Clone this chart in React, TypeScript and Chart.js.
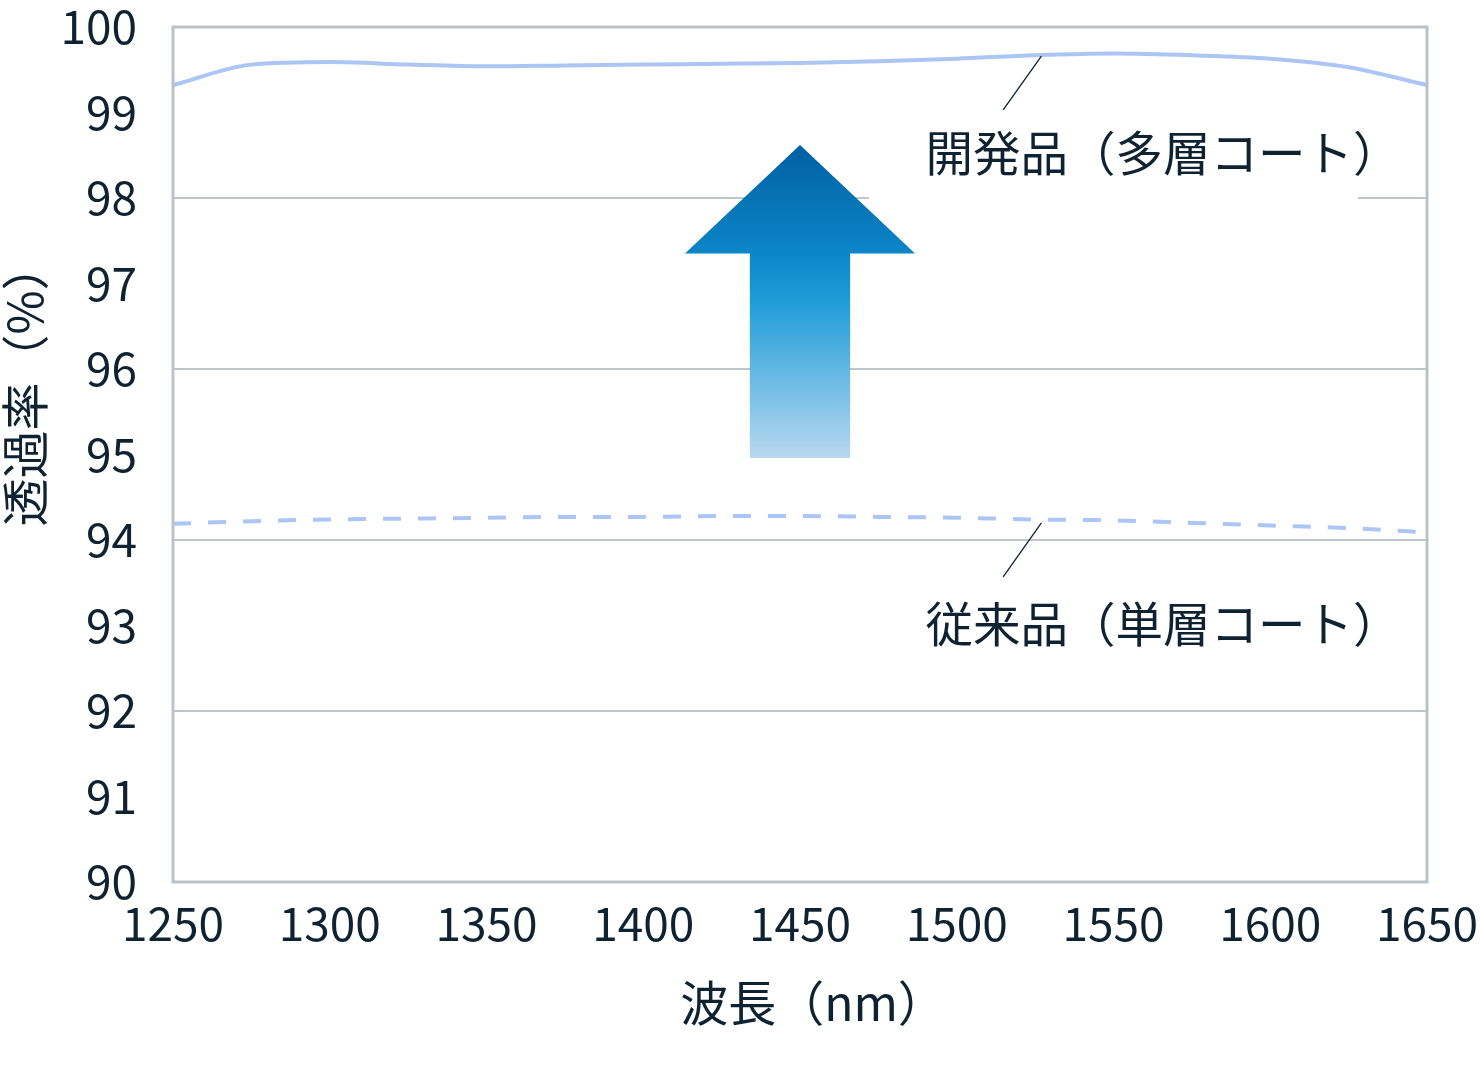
import { Chart, registerables, Plugin } from "chart.js";
import React, { useEffect, useRef } from "react";

Chart.register(...registerables);

// wavelength (nm) and transmittance (%)
const wavelengths = [
  1250, 1275, 1300, 1325, 1350, 1375, 1400, 1425, 1450, 1475, 1500, 1525, 1550,
  1575, 1600, 1625, 1650,
];
const multiLayer = [
  99.32, 99.56, 99.59, 99.56, 99.54, 99.55, 99.56, 99.57, 99.58, 99.6, 99.63,
  99.67, 99.69, 99.67, 99.63, 99.53, 99.32,
];
const singleLayer = [
  94.19, 94.22, 94.24, 94.25, 94.26, 94.27, 94.27, 94.28, 94.28, 94.27, 94.26,
  94.24, 94.23, 94.2, 94.17, 94.14, 94.09,
];
const xTicks = [1250, 1300, 1350, 1400, 1450, 1500, 1550, 1600, 1650];
const seriesLabels = ["開発品（多層コート）", "従来品（単層コート）"];

const FONT = "'Noto Sans CJK JP', 'Noto Sans', sans-serif";
const TEXT = "#0f2231";
const LINE = "#abc5f5";
const GRID = "#bcc6cb";

const annotations: Plugin<"line"> = {
  id: "annotations",
  afterDatasetsDraw(chart) {
    const { ctx, chartArea } = chart;
    const x = chart.scales.x;
    const y = chart.scales.y;
    const px = (v: number) => x.getPixelForValue(v);
    const py = (v: number) => y.getPixelForValue(v);

    ctx.save();
    // white box behind the upper label (hides the 98 grid line)
    ctx.fillStyle = "#ffffff";
    ctx.fillRect(px(1472), py(98.95), px(1628) - px(1472), py(97.9) - py(98.95));

    // plot border
    ctx.strokeStyle = "#b8c2c8";
    ctx.lineWidth = 3;
    ctx.strokeRect(
      chartArea.left,
      chartArea.top,
      chartArea.right - chartArea.left,
      chartArea.bottom - chartArea.top
    );

    // leader lines
    ctx.strokeStyle = TEXT;
    ctx.lineWidth = 1.3;
    ctx.beginPath();
    ctx.moveTo(px(1514.8), py(99.03));
    ctx.lineTo(px(1527), py(99.66));
    ctx.moveTo(px(1514.8), py(93.57));
    ctx.lineTo(px(1527), py(94.2));
    ctx.stroke();

    // series labels
    ctx.fillStyle = TEXT;
    ctx.font = `47.5px ${FONT}`;
    ctx.textAlign = "left";
    ctx.textBaseline = "middle";
    ctx.fillText(seriesLabels[0], px(1490), py(98.53));
    ctx.fillText(seriesLabels[1], px(1490), py(93.02));

    // up arrow
    const cx = px(1450);
    const headW = px(1450 + 36.7) - cx;
    const bodyW = px(1450 + 16) - cx;
    const tip = py(98.62);
    const base = py(97.35);
    const bottom = py(94.96);
    const grad = ctx.createLinearGradient(0, tip, 0, bottom);
    grad.addColorStop(0, "#0060a3");
    grad.addColorStop(0.35, "#0d86c7");
    grad.addColorStop(0.5, "#1f9dd9");
    grad.addColorStop(1, "#b8d8f0");
    ctx.fillStyle = grad;
    ctx.beginPath();
    ctx.moveTo(cx, tip);
    ctx.lineTo(cx + headW, base);
    ctx.lineTo(cx + bodyW, base);
    ctx.lineTo(cx + bodyW, bottom);
    ctx.lineTo(cx - bodyW, bottom);
    ctx.lineTo(cx - bodyW, base);
    ctx.lineTo(cx - headW, base);
    ctx.closePath();
    ctx.fill();

    // axis titles
    ctx.fillStyle = TEXT;
    ctx.font = `48px ${FONT}`;
    ctx.textAlign = "center";
    ctx.textBaseline = "middle";
    ctx.fillText("波長（nm）", (chartArea.left + chartArea.right) / 2 + 13, 1003);

    const midY = (chartArea.top + chartArea.bottom) / 2 - 70;
    ctx.translate(25, midY);
    ctx.rotate(-Math.PI / 2);
    ctx.fillText("透過率（%）", 0, 0);
    ctx.restore();
  },
};

const TransmittanceChart: React.FC = () => {
  const canvasRef = useRef<HTMLCanvasElement | null>(null);
  const chartInstance = useRef<Chart | null>(null);

  useEffect(() => {
    if (chartInstance.current) {
      chartInstance.current.destroy();
    }
    if (!canvasRef.current) return;

    chartInstance.current = new Chart(canvasRef.current, {
      type: "line",
      data: {
        datasets: [
          {
            label: seriesLabels[0],
            data: wavelengths.map((w, i) => ({ x: w, y: multiLayer[i] })),
            borderColor: LINE,
            borderWidth: 4,
            pointRadius: 0,
            cubicInterpolationMode: "monotone",
          },
          {
            label: seriesLabels[1],
            data: wavelengths.map((w, i) => ({ x: w, y: singleLayer[i] })),
            borderColor: LINE,
            borderWidth: 4,
            borderDash: [18, 17],
            pointRadius: 0,
            cubicInterpolationMode: "monotone",
          },
        ],
      },
      options: {
        animation: false,
        responsive: true,
        maintainAspectRatio: false,
        layout: { padding: { top: 27, right: 53, left: 0, bottom: 0 } },
        plugins: {
          legend: { display: false },
          tooltip: { enabled: false },
        },
        scales: {
          x: {
            type: "linear",
            min: 1250,
            max: 1650,
            afterBuildTicks: (scale) => {
              scale.ticks = xTicks.map((v) => ({ value: v }));
            },
            afterFit: (scale) => {
              scale.height = 189;
              scale.paddingLeft = 0;
              scale.paddingRight = 0;
            },
            grid: { display: false, drawTicks: false },
            border: { display: false },
            ticks: {
              padding: 14,
              color: TEXT,
              font: { family: FONT, size: 46 },
              maxRotation: 0,
              autoSkip: false,
              callback: (v) => String(v),
            },
          },
          y: {
            min: 90,
            max: 100,
            afterFit: (scale) => {
              scale.width = 173;
              scale.paddingTop = 0;
              scale.paddingBottom = 0;
            },
            grid: {
              drawTicks: false,
              lineWidth: 2,
              color: (c) =>
                c.tick && c.tick.value % 2 === 0 && c.tick.value > 90 && c.tick.value < 100
                  ? GRID
                  : "rgba(0,0,0,0)",
            },
            border: { display: false },
            ticks: {
              stepSize: 1,
              padding: 36,
              color: TEXT,
              font: { family: FONT, size: 46 },
              callback: (v) => String(v),
            },
          },
        },
      },
      plugins: [annotations],
    });

    return () => {
      if (chartInstance.current) {
        chartInstance.current.destroy();
        chartInstance.current = null;
      }
    };
  }, []);

  return (
    <div
      style={{
        position: "fixed",
        left: 0,
        top: 0,
        width: 1480,
        height: 1071,
        background: "#ffffff",
      }}
    >
      <canvas ref={canvasRef}></canvas>
    </div>
  );
};

export default function App() {
  return <TransmittanceChart />;
}
